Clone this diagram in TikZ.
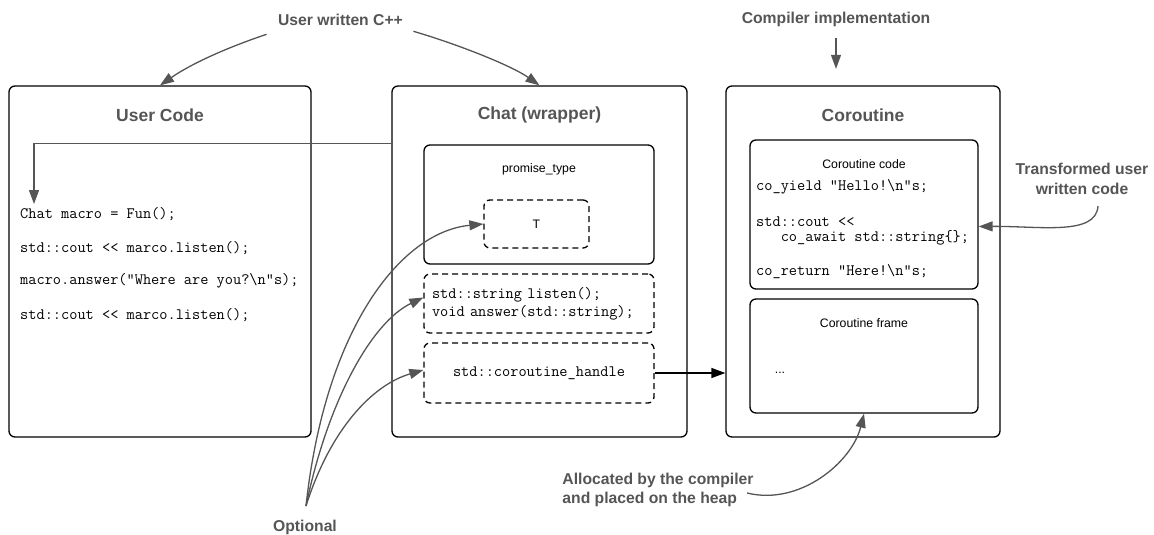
\documentclass[tikz,border=0pt]{standalone}
\usepackage{fontspec}
\setsansfont{Liberation Sans}
\usetikzlibrary{arrows.meta, positioning}
\definecolor{labgray}{HTML}{555555}
\tikzstyle{outer} = [draw, rectangle, rounded corners=6pt, line width=1.3pt]
\tikzstyle{dashbox} = [outer, dash pattern=on 6pt off 4pt]
\tikzstyle{title} = [text=labgray, font=\fontsize{17.5}{20}\selectfont\sffamily\bfseries]
\tikzstyle{note} = [text=labgray, font=\fontsize{15.7}{19.5}\selectfont\sffamily\bfseries]
\tikzstyle{small} = [font=\fontsize{12.3}{14}\selectfont\sffamily]
\tikzstyle{mono} = [font=\fontsize{15.9}{18}\selectfont\ttfamily]
\tikzstyle{code} = [mono, anchor=west, inner sep=0pt]
\tikzstyle{line} = [draw, labgray, line width=1.3pt, -{Triangle[length=14pt,width=10pt]}]

\begin{document}
\begin{tikzpicture}[x=1pt, y=-1pt]
	\useasboundingbox (0,0) rectangle (1154,535);

	% the three big boxes
	\node [outer, minimum width=302pt, minimum height=351pt] (user) at (160,261.5) {};
	\node [outer, minimum width=295pt, minimum height=351pt] (chat) at (539.5,261.5) {};
	\node [outer, minimum width=274pt, minimum height=351pt] (coro) at (863,261.5) {};
	\node [title] (usert) at (160,115) {User Code};
	\node [title] (chatt) at (539.5,115) {Chat (wrapper)};
	\node [title] (corot) at (863,115) {Coroutine};

	% user code
	\foreach \y/\txt [count=\i] in {214/{Chat macro = Fun();},
		248/{std::cout << marco.listen();},
		281/{macro.answer("Where are you?\textbackslash n"s);},
		315/{std::cout << marco.listen();}}
		\node [code] (uc\i) at (20,\y) {\txt};

	% chat wrapper
	\node [outer, minimum width=230pt, minimum height=119pt] (promise) at (539,204.5) {};
	\node [small] (promt) at (539,169) {promise\_type};
	\node [dashbox, small, minimum width=105pt, minimum height=48pt] (tval) at (536.5,224) {T};
	\node [dashbox, mono, align=left, text width=214pt, inner xsep=8pt,
		minimum height=59pt] (methods) at (539,303.5)
		{std::string listen();\\void answer(std::string);};
	\node [dashbox, mono, minimum width=230pt, minimum height=60pt] (handle) at (539,373)
		{std::coroutine\_handle};

	% coroutine
	\node [outer, minimum width=228pt, minimum height=149pt] (ccode) at (864,214.5) {};
	\node [small] (ccodet) at (864,164) {Coroutine code};
	\node [code] (cc1) at (756,187) {co\_yield "Hello!\textbackslash n"s;};
	\node [code] (cc2) at (756,222) {std::cout <<};
	\node [code] (cc3) at (756,238) {\phantom{xxx}co\_await std::string\{\};};
	\node [code] (cc4) at (756,272) {co\_return "Here!\textbackslash n"s;};
	\node [outer, minimum width=228pt, minimum height=114pt] (frame) at (864,356) {};
	\node [small] (framet) at (864,323) {Coroutine frame};
	\node [small] (dots) at (780,373) {...};

	% outside labels
	\node [note] (written) at (340.5,20) {User written C++};
	\node [note] (compiler) at (836,19) {Compiler implementation};
	\node [note, align=center] (transf) at (1082,179) {Transformed user\\written code};
	\node [note, align=left] (alloc) at (658,490) {Allocated by the compiler\\and placed on the heap};
	\node [note] (opt) at (305,527) {Optional};
	\coordinate (optfan) at (306,506);
	\coordinate (down) at (34,204);

	% connectors
	\path [line] (written.south west) ++(-8,5) .. controls (220,50) and (188,66) .. (user.north);
	\path [line] (written.south east) ++(7,2) .. controls (460,45) and (512,66) .. (chat.north);
	\path [line] ([yshift=-58pt]chat.north west) -| (down);
	\path [line] (compiler.south) ++(0,8) -- ++(0,31);
	\path [line] (optfan) .. controls (325,330) and (400,232) .. (tval.west);
	\path [line] (optfan) .. controls (328,400) and (372,322) .. ([yshift=6pt]methods.west);
	\path [line] (optfan) .. controls (330,430) and (372,385) .. ([yshift=3pt]handle.west);
	\path [line] (transf.south) ++(16,8) .. controls (1096,236) and (1040,226) .. ([yshift=-12pt]ccode.east);
	\path [line] (alloc.east) ++(-10,3) .. controls (800,506) and (852,462) .. (frame.south);
	\draw [line width=1.3pt, -{Triangle[length=14pt,width=10pt]}] (handle.east) -- (handle.east -| coro.west);
\end{tikzpicture}
\end{document}
